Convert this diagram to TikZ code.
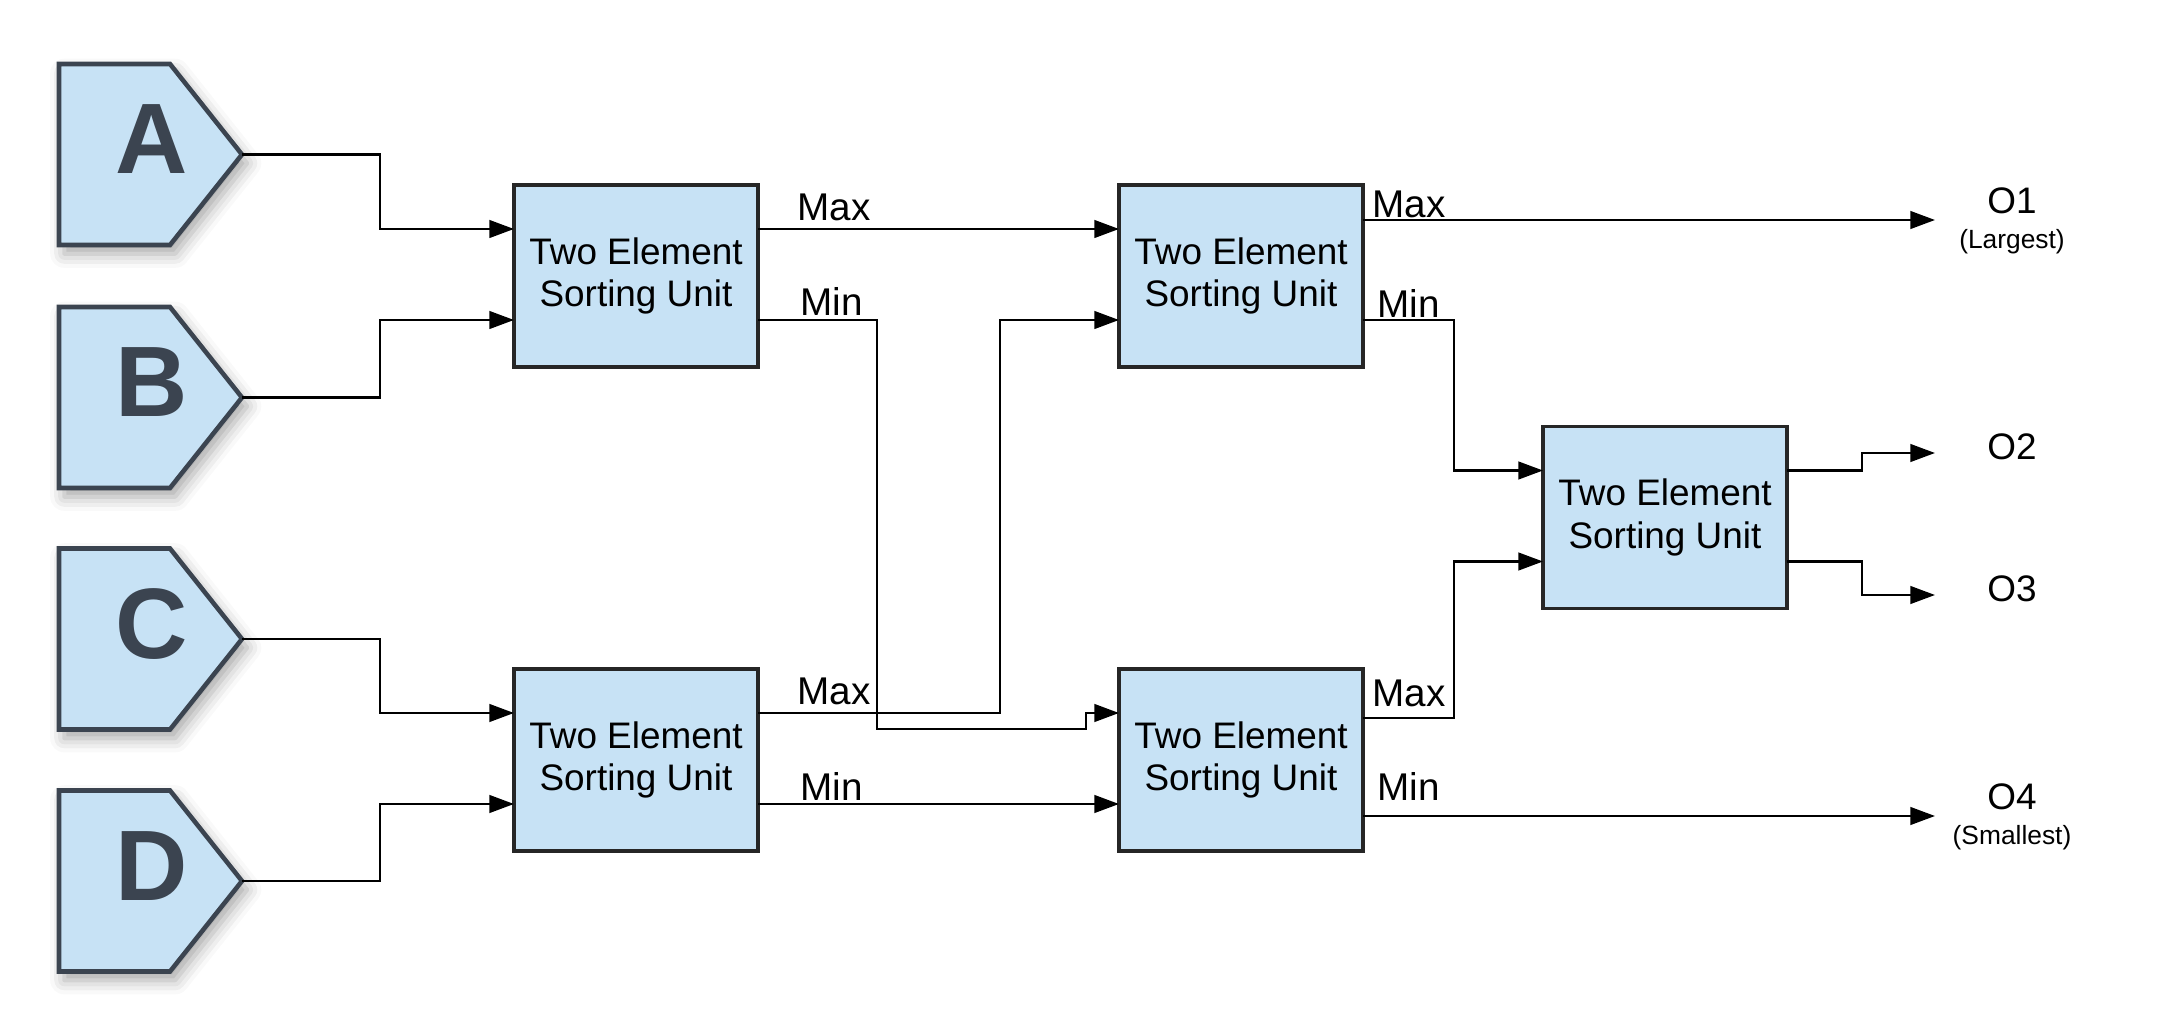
\documentclass[tikz,border=0pt]{standalone}
\usepackage{fontspec}
\setmainfont{Liberation Sans}
\usetikzlibrary{shapes.symbols,arrows.meta,shadows.blur}

\definecolor{unitblue}{HTML}{C7E2F5}
\definecolor{slate}{HTML}{3B4450}

\tikzset{
  inport/.style={signal, signal to=east, signal pointer angle=103, anchor=west,
    minimum width=1.83cm, minimum height=1.81cm, inner sep=0pt, outer sep=0pt,
    fill=unitblue, draw=slate, line width=1.3pt,
    blur shadow={shadow xshift=1.5pt, shadow yshift=-2.5pt, shadow blur radius=4pt, shadow opacity=35}},
  portletter/.style={xshift=3.75mm, yshift=1.5mm, inner sep=0pt, text=slate,
    font=\fontsize{28.5}{28}\selectfont\bfseries},
  sorter/.style={draw=black!85, fill=unitblue, line width=0.9pt,
    minimum width=2.44cm, minimum height=1.82cm, inner sep=0pt, outer sep=0pt,
    align=center, font=\fontsize{10.5}{12.2}\selectfont},
  wire/.style={line width=0.7pt, -{Triangle[length=7pt,width=5pt]}},
  portlbl/.style={font=\fontsize{11}{12}\selectfont, anchor=base west, inner sep=0pt},
  outlbl/.style={align=center, font=\fontsize{10.5}{11}\selectfont, inner sep=0pt}
}

\begin{document}
\begin{tikzpicture}
  \useasboundingbox (0cm,0cm) rectangle (21.72cm,-10.22cm);

  % inputs
  \node[inport, label={[portletter]center:A}] (inA) at (0.59cm,-1.545cm) {};
  \node[inport, label={[portletter]center:B}] (inB) at (0.59cm,-3.975cm) {};
  \node[inport, label={[portletter]center:C}] (inC) at (0.59cm,-6.39cm) {};
  \node[inport, label={[portletter]center:D}] (inD) at (0.59cm,-8.81cm) {};

  % sorting units
  \node[sorter] (s1) at (6.36cm,-2.76cm) {Two Element\\Sorting Unit};
  \node[sorter] (s2) at (12.41cm,-2.76cm) {Two Element\\Sorting Unit};
  \node[sorter] (s3) at (6.36cm,-7.60cm) {Two Element\\Sorting Unit};
  \node[sorter] (s4) at (12.41cm,-7.60cm) {Two Element\\Sorting Unit};
  \node[sorter] (s5) at (16.65cm,-5.175cm) {Two Element\\Sorting Unit};

  \foreach \u in {s1,s2,s3,s4,s5} {
    \coordinate (\u-inhi) at ([yshift=4.7mm]\u.west);
    \coordinate (\u-inlo) at ([yshift=-4.4mm]\u.west);
    \coordinate (\u-max) at ([yshift=4.7mm]\u.east);
    \coordinate (\u-min) at ([yshift=-4.4mm]\u.east);
  }
  \coordinate (s2-max) at ([yshift=5.6mm]s2.east);
  \coordinate (s4-max) at ([yshift=4.2mm]s4.east);
  \coordinate (s4-min) at ([yshift=-5.6mm]s4.east);

  % outputs
  \coordinate (outx) at (19.35cm,0cm);
  \coordinate (e2) at (19.35cm,-4.53cm);
  \coordinate (e3) at (19.35cm,-5.95cm);
  \node[outlbl] (o1) at (20.12cm,-2.21cm) {O1\\[-1pt]{\fontsize{7.5}{9}\selectfont(Largest)}};
  \node[outlbl] (o2) at (20.12cm,-4.47cm) {O2};
  \node[outlbl] (o3) at (20.12cm,-5.89cm) {O3};
  \node[outlbl] (o4) at (20.12cm,-8.17cm) {O4\\[-1pt]{\fontsize{7.5}{9}\selectfont(Smallest)}};

  % first stage
  \draw[wire] (inA.east) -- ++(1.38cm,0) |- (s1-inhi);
  \draw[wire] (inB.east) -- ++(1.38cm,0) |- (s1-inlo);
  \draw[wire] (inC.east) -- ++(1.38cm,0) |- (s3-inhi);
  \draw[wire] (inD.east) -- ++(1.38cm,0) |- (s3-inlo);

  % second stage
  \draw[wire] (s1-max) -- (s2-inhi);
  \draw[wire] (s1-min) -- ++(1.19cm,0) |- (10.86cm,-7.29cm) |- (s4-inhi);
  \draw[wire] (s3-max) -- ++(2.42cm,0) |- (s2-inlo);
  \draw[wire] (s3-min) -- (s4-inlo);
  \node[portlbl] (s1mx) at ([xshift=3.9mm,yshift=0.8mm]s1-max) {Max};
  \node[portlbl] (s1mn) at ([xshift=4.2mm,yshift=0.4mm]s1-min) {Min};
  \node[portlbl] (s3mx) at ([xshift=3.9mm,yshift=0.8mm]s3-max) {Max};
  \node[portlbl] (s3mn) at ([xshift=4.2mm,yshift=0.4mm]s3-min) {Min};

  % third stage
  \draw[wire] (s2-max) -- (s2-max -| outx);
  \draw[wire] (s2-min) -- ++(0.91cm,0) |- (s5-inhi);
  \draw[wire] (s4-max) -- ++(0.91cm,0) |- (s5-inlo);
  \draw[wire] (s4-min) -- (s4-min -| outx);
  \draw[wire] (s5-max) -- ++(0.75cm,0) |- (e2);
  \draw[wire] (s5-min) -- ++(0.75cm,0) |- (e3);
  \node[portlbl] (s2mx) at ([xshift=0.9mm,yshift=0.2mm]s2-max) {Max};
  \node[portlbl] (s2mn) at ([xshift=1.4mm,yshift=0.2mm]s2-min) {Min};
  \node[portlbl] (s4mx) at ([xshift=0.9mm,yshift=1.1mm]s4-max) {Max};
  \node[portlbl] (s4mn) at ([xshift=1.4mm,yshift=1.6mm]s4-min) {Min};
\end{tikzpicture}
\end{document}
